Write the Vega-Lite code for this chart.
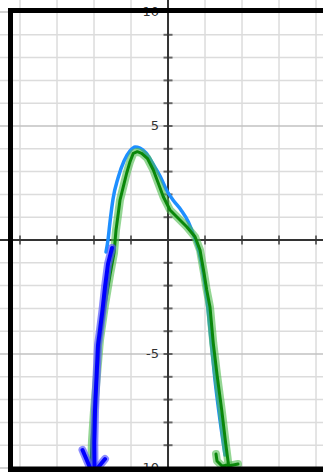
{
  "$schema": "https://vega.github.io/schema/vega-lite/v6.json",
  "width": 323,
  "height": 472,
  "padding": 0,
  "autosize": "none",
  "background": "white",
  "config": {"view": {"stroke": null}, "axis": {"disable": true}},
  "datasets": {
    "xgrid": [{"v": -4}, {"v": -3}, {"v": -2}, {"v": -1}, {"v": 1}, {"v": 2}, {"v": 3}, {"v": 4}],
    "ygrid": [
      {"v": -10, "major": true}, {"v": -9, "major": false}, {"v": -8, "major": false}, {"v": -7, "major": false},
      {"v": -6, "major": false}, {"v": -5, "major": true}, {"v": -4, "major": false}, {"v": -3, "major": false},
      {"v": -2, "major": false}, {"v": -1, "major": false}, {"v": 1, "major": false}, {"v": 2, "major": false},
      {"v": 3, "major": false}, {"v": 4, "major": false}, {"v": 5, "major": true}, {"v": 6, "major": false},
      {"v": 7, "major": false}, {"v": 8, "major": false}, {"v": 9, "major": false}, {"v": 10, "major": true}
    ],
    "ylabels": [{"v": 10, "t": "10"}, {"v": 5, "t": "5"}, {"v": -5, "t": "-5"}, {"v": -10, "t": "-10"}],
    "lightblue": [
      {"i": 1, "x": -1.676, "y": -0.526},
      {"i": 2, "x": -1.622, "y": 0.0},
      {"i": 3, "x": -1.568, "y": 0.789},
      {"i": 4, "x": -1.486, "y": 1.798},
      {"i": 5, "x": -1.351, "y": 2.719},
      {"i": 6, "x": -1.189, "y": 3.465},
      {"i": 7, "x": -1.027, "y": 3.904},
      {"i": 8, "x": -0.892, "y": 4.079},
      {"i": 9, "x": -0.757, "y": 4.035},
      {"i": 10, "x": -0.595, "y": 3.816},
      {"i": 11, "x": -0.405, "y": 3.333},
      {"i": 12, "x": -0.216, "y": 2.807},
      {"i": 13, "x": -0.027, "y": 2.149},
      {"i": 14, "x": 0.135, "y": 1.754},
      {"i": 15, "x": 0.351, "y": 1.316},
      {"i": 16, "x": 0.55, "y": 0.789},
      {"i": 17, "x": 0.7, "y": 0.175},
      {"i": 18, "x": 0.838, "y": -0.526},
      {"i": 19, "x": 0.946, "y": -1.404},
      {"i": 20, "x": 1.054, "y": -2.632},
      {"i": 21, "x": 1.162, "y": -4.386},
      {"i": 22, "x": 1.27, "y": -6.14},
      {"i": 23, "x": 1.405, "y": -7.895},
      {"i": 24, "x": 1.541, "y": -9.43}
    ],
    "green": [
      {"s": "a", "i": 1, "x": -2.081, "y": -9.912},
      {"s": "a", "i": 2, "x": -2.054, "y": -8.772},
      {"s": "a", "i": 3, "x": -2.0, "y": -7.456},
      {"s": "a", "i": 4, "x": -1.919, "y": -5.921},
      {"s": "a", "i": 5, "x": -1.838, "y": -4.386},
      {"s": "a", "i": 6, "x": -1.703, "y": -2.851},
      {"s": "a", "i": 7, "x": -1.568, "y": -1.535},
      {"s": "a", "i": 8, "x": -1.459, "y": -0.57},
      {"s": "a", "i": 9, "x": -1.405, "y": 0.439},
      {"s": "a", "i": 10, "x": -1.343, "y": 1.184},
      {"s": "a", "i": 11, "x": -1.297, "y": 1.754},
      {"s": "a", "i": 12, "x": -1.208, "y": 2.338},
      {"s": "a", "i": 13, "x": -1.116, "y": 2.939},
      {"s": "a", "i": 14, "x": -1.027, "y": 3.434},
      {"s": "a", "i": 15, "x": -0.938, "y": 3.803},
      {"s": "a", "i": 16, "x": -0.83, "y": 3.873},
      {"s": "a", "i": 17, "x": -0.711, "y": 3.803},
      {"s": "a", "i": 18, "x": -0.559, "y": 3.583},
      {"s": "a", "i": 19, "x": -0.397, "y": 3.07},
      {"s": "a", "i": 20, "x": -0.262, "y": 2.487},
      {"s": "a", "i": 21, "x": -0.127, "y": 1.899},
      {"s": "a", "i": 22, "x": 0.054, "y": 1.316},
      {"s": "a", "i": 23, "x": 0.235, "y": 1.022},
      {"s": "a", "i": 24, "x": 0.505, "y": 0.583},
      {"s": "a", "i": 25, "x": 0.73, "y": 0.145},
      {"s": "a", "i": 26, "x": 0.865, "y": -0.439},
      {"s": "a", "i": 27, "x": 0.973, "y": -1.447},
      {"s": "a", "i": 28, "x": 1.046, "y": -2.193},
      {"s": "a", "i": 29, "x": 1.135, "y": -2.939},
      {"s": "a", "i": 30, "x": 1.224, "y": -4.531},
      {"s": "a", "i": 31, "x": 1.332, "y": -5.996},
      {"s": "a", "i": 32, "x": 1.451, "y": -7.456},
      {"s": "a", "i": 33, "x": 1.559, "y": -8.917},
      {"s": "a", "i": 34, "x": 1.635, "y": -9.868},
      {"s": "a", "i": 35, "x": 1.459, "y": -9.912},
      {"s": "a", "i": 36, "x": 1.324, "y": -9.693},
      {"s": "a", "i": 37, "x": 1.297, "y": -9.386},
      {"s": "b", "i": 1, "x": 1.635, "y": -9.912},
      {"s": "b", "i": 2, "x": 1.892, "y": -9.825}
    ],
    "darkblue": [
      {"s": "a", "i": 1, "x": -1.514, "y": -0.351},
      {"s": "a", "i": 2, "x": -1.622, "y": -1.053},
      {"s": "a", "i": 3, "x": -1.703, "y": -2.061},
      {"s": "a", "i": 4, "x": -1.77, "y": -3.07},
      {"s": "a", "i": 5, "x": -1.838, "y": -3.947},
      {"s": "a", "i": 6, "x": -1.892, "y": -4.605},
      {"s": "a", "i": 7, "x": -1.932, "y": -6.009},
      {"s": "a", "i": 8, "x": -1.973, "y": -7.456},
      {"s": "a", "i": 9, "x": -1.992, "y": -8.904},
      {"s": "a", "i": 10, "x": -1.986, "y": -10.088},
      {"s": "b", "i": 1, "x": -2.311, "y": -9.211},
      {"s": "b", "i": 2, "x": -2.081, "y": -10.088},
      {"s": "c", "i": 1, "x": -1.703, "y": -9.605},
      {"s": "c", "i": 2, "x": -1.946, "y": -10.088}
    ],
    "frameV": [{"x": -4.257, "y1": 10.175, "y2": -10.3}],
    "frameH": [
      {"y": 10.066, "x1": -4.325, "x2": 4.3, "w": 5},
      {"y": -10.066, "x1": -4.325, "x2": 4.3, "w": 6}
    ]
  },
  "layer": [
    {
      "data": {"name": "xgrid"},
      "mark": {"type": "rule", "color": "#dcdcdc", "strokeWidth": 1.5},
      "encoding": {
        "x": {"field": "v", "type": "quantitative", "scale": {"domain": [-4.541, 4.189], "nice": false, "zero": false}}
      }
    },
    {
      "data": {"name": "ygrid"},
      "mark": {"type": "rule", "strokeWidth": 1.5},
      "encoding": {
        "y": {"field": "v", "type": "quantitative", "scale": {"domain": [-10.175, 10.526], "nice": false, "zero": false}},
        "color": {"field": "major", "type": "nominal", "scale": {"domain": [true, false], "range": ["#c2c2c2", "#dcdcdc"]}, "legend": null}
      }
    },
    {
      "data": {"values": [{"v": 0}]},
      "mark": {"type": "rule", "color": "#333333", "strokeWidth": 2},
      "encoding": {"x": {"field": "v", "type": "quantitative"}}
    },
    {
      "data": {"values": [{"v": 0}]},
      "mark": {"type": "rule", "color": "#333333", "strokeWidth": 2},
      "encoding": {"y": {"field": "v", "type": "quantitative"}}
    },
    {
      "data": {"name": "xgrid"},
      "mark": {"type": "tick", "orient": "vertical", "size": 9, "thickness": 2, "color": "#333333"},
      "encoding": {
        "x": {"field": "v", "type": "quantitative"},
        "y": {"datum": 0, "type": "quantitative"}
      }
    },
    {
      "data": {"name": "ygrid"},
      "mark": {"type": "tick", "orient": "horizontal", "size": 9, "thickness": 2, "color": "#333333"},
      "encoding": {
        "x": {"datum": 0, "type": "quantitative"},
        "y": {"field": "v", "type": "quantitative"}
      }
    },
    {
      "data": {"name": "ylabels"},
      "mark": {"type": "text", "align": "right", "baseline": "middle", "dx": -9, "fontSize": 13, "font": "DejaVu Sans", "color": "#333333"},
      "encoding": {
        "x": {"datum": 0, "type": "quantitative"},
        "y": {"field": "v", "type": "quantitative"},
        "text": {"field": "t"}
      }
    },
    {
      "data": {"name": "lightblue"},
      "mark": {"type": "line", "color": "#1e8fff", "strokeWidth": 3.5, "strokeCap": "round", "strokeJoin": "round", "interpolate": "monotone"},
      "encoding": {
        "x": {"field": "x", "type": "quantitative"},
        "y": {"field": "y", "type": "quantitative"},
        "order": {"field": "i"}
      }
    },
    {
      "data": {"name": "green"},
      "mark": {"type": "line", "color": "#4cbb4c", "opacity": 0.6, "strokeWidth": 8, "strokeCap": "round", "strokeJoin": "round"},
      "encoding": {
        "x": {"field": "x", "type": "quantitative"},
        "y": {"field": "y", "type": "quantitative"},
        "detail": {"field": "s"},
        "order": {"field": "i"}
      }
    },
    {
      "data": {"name": "green"},
      "mark": {"type": "line", "color": "#0a870a", "strokeWidth": 3, "strokeCap": "round", "strokeJoin": "round"},
      "encoding": {
        "x": {"field": "x", "type": "quantitative"},
        "y": {"field": "y", "type": "quantitative"},
        "detail": {"field": "s"},
        "order": {"field": "i"}
      }
    },
    {
      "data": {"name": "darkblue"},
      "mark": {"type": "line", "color": "#5a5aff", "opacity": 0.7, "strokeWidth": 8, "strokeCap": "round", "strokeJoin": "round"},
      "encoding": {
        "x": {"field": "x", "type": "quantitative"},
        "y": {"field": "y", "type": "quantitative"},
        "detail": {"field": "s"},
        "order": {"field": "i"}
      }
    },
    {
      "data": {"name": "darkblue"},
      "mark": {"type": "line", "color": "#0000ff", "strokeWidth": 4, "strokeCap": "round", "strokeJoin": "round"},
      "encoding": {
        "x": {"field": "x", "type": "quantitative"},
        "y": {"field": "y", "type": "quantitative"},
        "detail": {"field": "s"},
        "order": {"field": "i"}
      }
    },
    {
      "data": {"name": "frameV"},
      "mark": {"type": "rule", "color": "#000000", "strokeWidth": 5},
      "encoding": {
        "x": {"field": "x", "type": "quantitative"},
        "y": {"field": "y1", "type": "quantitative"},
        "y2": {"field": "y2"}
      }
    },
    {
      "data": {"name": "frameH"},
      "mark": {"type": "rule", "color": "#000000"},
      "encoding": {
        "y": {"field": "y", "type": "quantitative"},
        "x": {"field": "x1", "type": "quantitative"},
        "x2": {"field": "x2"},
        "strokeWidth": {"field": "w", "type": "quantitative", "scale": null}
      }
    }
  ]
}
